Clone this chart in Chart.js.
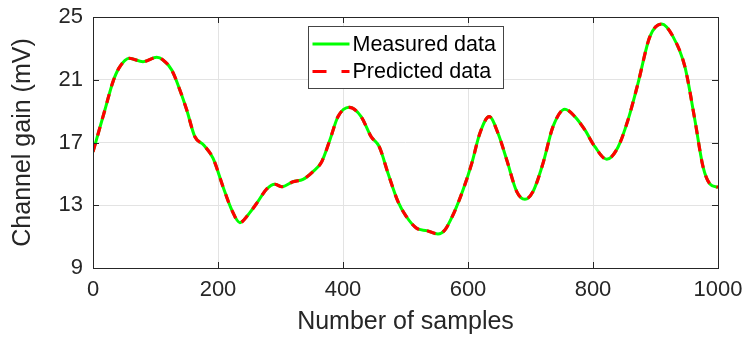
<!DOCTYPE html>
<html>
<head>
<meta charset="utf-8">
<title>Channel gain</title>
<script src="https://cdn.jsdelivr.net/npm/chart.js@4.4.1/dist/chart.umd.min.js"></script>
<style>
  html, body { margin: 0; padding: 0; background: #fff; }
  #wrap { width: 747px; height: 340px; }
</style>
</head>
<body>
<div id="wrap"><canvas id="gainChart" width="747" height="340"></canvas></div>
<script>
// sample index and channel gain (mV)
var samples = [0, 19, 32, 42, 58, 80, 102, 112, 126, 139, 150, 163, 177, 192, 208, 222, 235, 248, 262, 278,
  291, 302, 320, 336, 352, 366, 379, 392, 410, 429, 445, 458, 472, 488, 501, 518, 534, 552, 563, 576,
  592, 606, 619, 634, 648, 662, 678, 691, 704, 720, 736, 755, 771, 787, 803, 822, 840, 856, 872, 891,
  910, 928, 947, 963, 976, 987, 1000];

var measuredGain = [16.40, 19.07, 20.88, 21.77, 22.37, 22.15, 22.43, 22.26, 21.62, 20.35, 19.07, 17.37, 16.84, 16.00, 14.18, 12.70, 11.89, 12.38, 13.13, 14.04,
  14.34, 14.18, 14.50, 14.65, 15.14, 15.78, 17.16, 18.65, 19.24, 18.65, 17.37, 16.73, 15.04, 13.23, 12.30, 11.53, 11.38, 11.17, 11.42, 12.38,
  13.97, 15.67, 17.59, 18.65, 17.59, 15.89, 13.87, 13.38, 13.87, 15.67, 18.01, 19.12, 18.65, 17.80, 16.73, 15.93, 16.70, 18.44, 20.77, 23.75,
  24.55, 23.75, 21.83, 18.44, 15.46, 14.36, 14.15];

var predictedGain = [16.40, 19.07, 20.88, 21.77, 22.37, 22.15, 22.43, 22.26, 21.62, 20.35, 19.07, 17.37, 16.84, 16.00, 14.18, 12.70, 11.89, 12.38, 13.13, 14.04,
  14.34, 14.18, 14.50, 14.65, 15.14, 15.78, 17.16, 18.65, 19.24, 18.65, 17.37, 16.73, 15.04, 13.23, 12.30, 11.53, 11.38, 11.17, 11.42, 12.38,
  13.97, 15.67, 17.59, 18.65, 17.59, 15.89, 13.87, 13.38, 13.87, 15.67, 18.01, 19.12, 18.65, 17.80, 16.73, 15.93, 16.70, 18.44, 20.77, 23.75,
  24.55, 23.75, 21.83, 18.44, 15.46, 14.36, 14.15];

var xTicks = [0, 200, 400, 600, 800, 1000];
var yTicks = [9, 13, 17, 21, 25];
var seriesNames = ['Measured data', 'Predicted data'];

var FONT = '"Liberation Sans", Arial, Helvetica, sans-serif';
var INK = '#262626';

function toPoints(xs, ys) {
  return xs.map(function (x, i) { return { x: x, y: ys[i] }; });
}

// box around the axes with small inward ticks on all four sides
var axesBox = {
  id: 'axesBox',
  afterDatasetsDraw: function (chart) {
    var ctx = chart.ctx, a = chart.chartArea;
    var xs = chart.scales.x, ys = chart.scales.y;
    var tl = 6;
    ctx.save();
    ctx.strokeStyle = INK;
    ctx.lineWidth = 1;
    ctx.beginPath();
    xTicks.forEach(function (v) {
      var px = Math.round(xs.getPixelForValue(v)) + 0.5;
      ctx.moveTo(px, a.bottom); ctx.lineTo(px, a.bottom - tl);
      ctx.moveTo(px, a.top); ctx.lineTo(px, a.top + tl);
    });
    yTicks.forEach(function (v) {
      var py = Math.round(ys.getPixelForValue(v)) + 0.5;
      ctx.moveTo(a.left, py); ctx.lineTo(a.left + tl, py);
      ctx.moveTo(a.right, py); ctx.lineTo(a.right - tl, py);
    });
    ctx.stroke();
    ctx.strokeRect(Math.round(a.left) + 0.5, Math.round(a.top) + 0.5,
      Math.round(a.right - a.left), Math.round(a.bottom - a.top));
    ctx.restore();
  }
};

// legend box drawn inside the plot, near the top
var legendDash = [[], [14, 15]];
var insetLegend = {
  id: 'insetLegend',
  afterDraw: function (chart) {
    var ctx = chart.ctx;
    var bx = 308.5, by = 26.5, bw = 195, bh = 62;
    ctx.save();
    ctx.fillStyle = '#fff';
    ctx.fillRect(bx, by, bw, bh);
    ctx.strokeStyle = '#444';
    ctx.lineWidth = 1;
    ctx.strokeRect(bx, by, bw, bh);
    ctx.font = '21.5px ' + FONT;
    ctx.textBaseline = 'middle';
    ctx.fillStyle = '#000';
    chart.data.datasets.forEach(function (ds, i) {
      var cy = by + 17.5 + i * 27.5;
      ctx.beginPath();
      ctx.strokeStyle = ds.borderColor;
      ctx.lineWidth = ds.borderWidth;
      ctx.setLineDash(legendDash[i]);
      ctx.moveTo(bx + 4, cy);
      ctx.lineTo(bx + 41, cy);
      ctx.stroke();
      ctx.setLineDash([]);
      ctx.fillText(seriesNames[i], bx + 44, cy + 1);
    });
    ctx.restore();
  }
};

var chart = new Chart(document.getElementById('gainChart'), {
  type: 'line',
  data: {
    datasets: [
      {
        label: seriesNames[0],
        data: toPoints(samples, measuredGain),
        borderColor: '#00ff00',
        borderWidth: 3,
        pointRadius: 0,
        cubicInterpolationMode: 'monotone',
        fill: false,
        order: 2
      },
      {
        label: seriesNames[1],
        data: toPoints(samples, predictedGain),
        borderColor: '#ff0000',
        borderWidth: 3.2,
        borderDash: [9, 8],
        pointRadius: 0,
        cubicInterpolationMode: 'monotone',
        fill: false,
        order: 1
      }
    ]
  },
  options: {
    responsive: false,
    animation: false,
    devicePixelRatio: 1,
    layout: { padding: { left: 0, right: 29, top: 17, bottom: 0 } },
    plugins: {
      legend: { display: false },
      tooltip: { enabled: false }
    },
    scales: {
      x: {
        type: 'linear',
        min: 0,
        max: 1000,
        afterBuildTicks: function (s) { s.ticks = xTicks.map(function (v) { return { value: v }; }); },
        afterFit: function (s) { s.height = 72; s.paddingLeft = 0; s.paddingRight = 0; },
        grid: { color: '#e3e3e3', drawTicks: false },
        border: { display: false },
        ticks: {
          color: INK,
          font: { family: FONT, size: 22 },
          padding: 9,
          maxRotation: 0,
          callback: function (v) { return String(v); }
        },
        title: {
          display: true,
          text: 'Number of samples',
          color: INK,
          font: { family: FONT, size: 25 },
          padding: { top: 0, bottom: 3 }
        }
      },
      y: {
        min: 9,
        max: 25,
        afterBuildTicks: function (s) { s.ticks = yTicks.map(function (v) { return { value: v }; }); },
        afterFit: function (s) { s.width = 93; s.paddingTop = 0; s.paddingBottom = 0; },
        grid: { color: '#e3e3e3', drawTicks: false },
        border: { display: false },
        ticks: { color: INK, font: { family: FONT, size: 22 }, padding: 10 },
        title: {
          display: true,
          text: 'Channel gain (mV)',
          color: INK,
          font: { family: FONT, size: 25 },
          padding: { top: 8, bottom: 0 }
        }
      }
    }
  },
  plugins: [axesBox, insetLegend]
});
</script>
</body>
</html>
